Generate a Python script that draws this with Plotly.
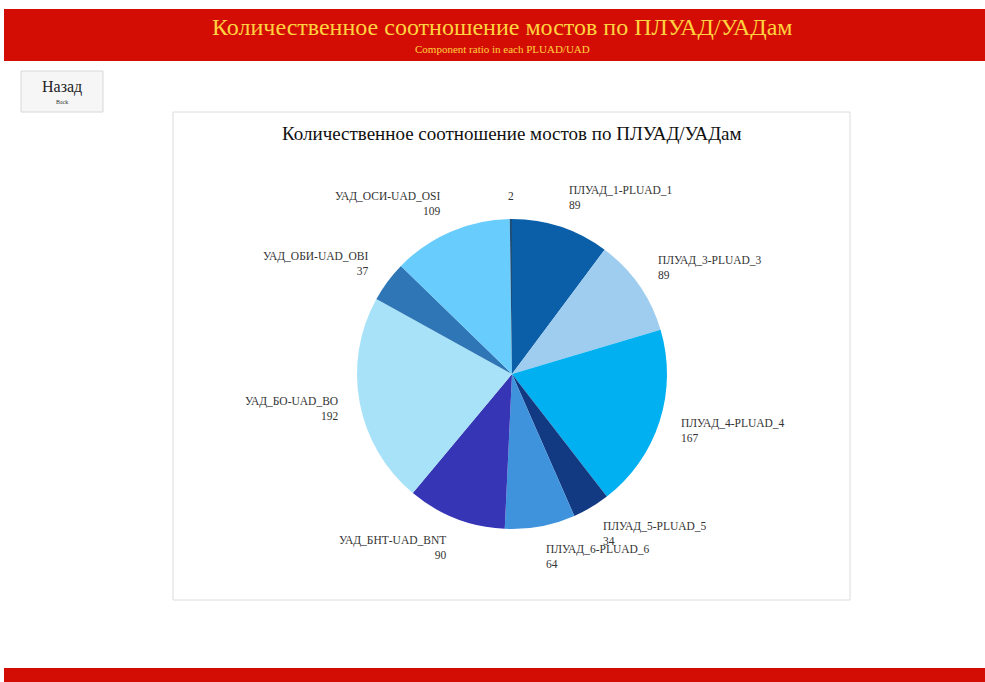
import numpy as np
import plotly.graph_objects as go

W, H = 985, 682

labels = ["ПЛУАД_1-PLUAD_1", "ПЛУАД_3-PLUAD_3", "ПЛУАД_4-PLUAD_4", "ПЛУАД_5-PLUAD_5",
          "ПЛУАД_6-PLUAD_6", "УАД_БНТ-UAD_BNT", "УАД_БО-UAD_BO", "УАД_ОБИ-UAD_OBI",
          "УАД_ОСИ-UAD_OSI", ""]
values = [89, 89, 167, 34, 64, 90, 192, 37, 109, 2]
colors = ["#0b5ea8", "#9fcdf0", "#00b0f0", "#123a82", "#3f93dd",
          "#3535b5", "#a8e2f8", "#2f76b6", "#68ccfc", "#1f4e79"]

header_title = "Количественное соотношение мостов по ПЛУАД/УАДам"
header_sub = "Component ratio in each PLUAD/UAD"
chart_title = "Количественное соотношение мостов по ПЛУАД/УАДам"

def px(x):
    return x / W

def py(y):
    return 1 - y / H

# pie geometry (pixels)
cx, cy, R = 512, 374, 155

fig = go.Figure(go.Pie(
    labels=[l if l else " " for l in labels], values=values,
    marker=dict(colors=colors, line=dict(width=0)),
    sort=False, direction="clockwise", rotation=0,
    textinfo="none", hoverinfo="label+value",
    domain=dict(x=[px(cx - R), px(cx + R)], y=[py(cy + R), py(cy - R)]),
    showlegend=False,
))

serif = "Liberation Serif"
shapes = []
annotations = []

# header bar
shapes.append(dict(type="rect", xref="paper", yref="paper", x0=px(4), x1=1, y0=py(61), y1=py(9),
                   fillcolor="#d40d04", line=dict(width=0), layer="below"))
# bottom bar
shapes.append(dict(type="rect", xref="paper", yref="paper", x0=px(4), x1=1, y0=0, y1=py(668),
                   fillcolor="#d40d04", line=dict(width=0), layer="below"))
# back button
shapes.append(dict(type="rect", xref="paper", yref="paper", x0=px(21), x1=px(103), y0=py(112), y1=py(71),
                   fillcolor="#f6f6f6", line=dict(width=1, color="#d8d8d8"), layer="below"))
# chart box
shapes.append(dict(type="rect", xref="paper", yref="paper", x0=px(173), x1=px(850), y0=py(600), y1=py(112),
                   fillcolor="white", line=dict(width=1, color="#dcdcdc"), layer="below"))

annotations.append(dict(text=header_title, x=px(502), y=py(27), xref="paper", yref="paper",
                        showarrow=False, font=dict(family=serif, size=24, color="#ffd23f"),
                        xanchor="center", yanchor="middle"))
annotations.append(dict(text=header_sub, x=px(502), y=py(49), xref="paper", yref="paper",
                        showarrow=False, font=dict(family=serif, size=11, color="#ffd23f"),
                        xanchor="center", yanchor="middle"))
annotations.append(dict(text="Назад", x=px(62), y=py(87), xref="paper", yref="paper",
                        showarrow=False, font=dict(family=serif, size=16, color="#222"),
                        xanchor="center", yanchor="middle"))
annotations.append(dict(text="Back", x=px(62), y=py(102), xref="paper", yref="paper",
                        showarrow=False, font=dict(family=serif, size=6, color="#333"),
                        xanchor="center", yanchor="middle"))
annotations.append(dict(text=chart_title, x=px(512), y=py(133), xref="paper", yref="paper",
                        showarrow=False, font=dict(family=serif, size=19, color="#111"),
                        xanchor="center", yanchor="middle"))

# slice labels placed from data angles (elliptical offset around the pie)
vals = np.array(values, dtype=float)
cum = np.cumsum(vals) - vals / 2
ang = cum / vals.sum() * 2 * np.pi
rx, ry = 1.13 * R, 1.2 * R
for lab, v, a in zip(labels, values, ang):
    dx, dy = np.sin(a), -np.cos(a)
    lx, ly = cx + rx * dx, cy + ry * dy
    if lab:
        txt = f"{lab}<br>{v}"
        anchor = "left" if dx > 0 else "right"
        align = "left" if dx > 0 else "right"
    else:
        txt = f"{v}"
        anchor = "center"
        align = "center"
        ly += 8
    annotations.append(dict(text=txt, x=px(lx), y=py(ly), xref="paper", yref="paper",
                            showarrow=False, xanchor=anchor, yanchor="middle", align=align,
                            font=dict(family=serif, size=11.5, color="#333")))

fig.update_layout(
    width=W, height=H, margin=dict(l=0, r=0, t=0, b=0),
    paper_bgcolor="white", plot_bgcolor="white",
    shapes=shapes, annotations=annotations,
)
fig.write_html("out.html")
